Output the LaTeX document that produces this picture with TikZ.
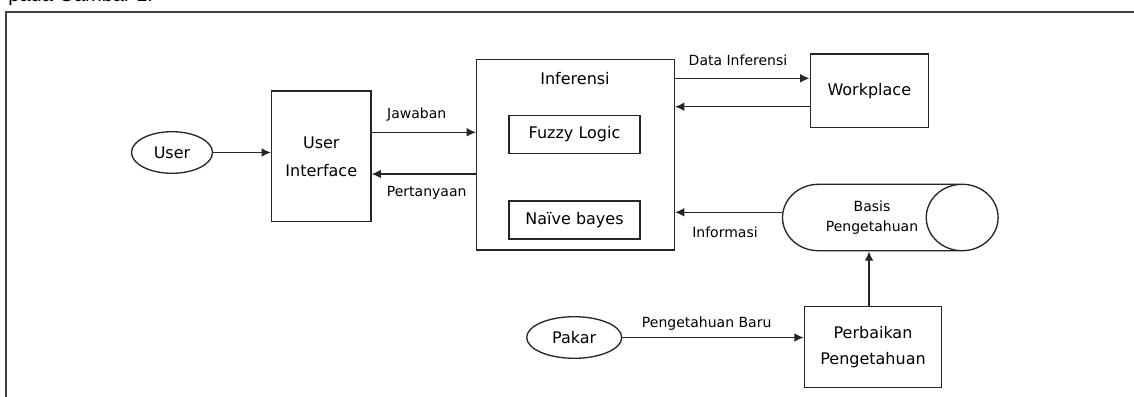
\documentclass[tikz,border=0pt]{standalone}
\usepackage{fontspec}
\setmainfont{DejaVu Sans}
\newfontfamily\judulfont{Liberation Sans}
\usetikzlibrary{arrows.meta,shapes.geometric}

\tikzset{every picture/.style={line width=0.75pt}}
\tikzset{
  kotak/.style={draw=black!85, line width=1pt, inner sep=0pt, align=center, font=\fontsize{12}{21}\selectfont},
  aktor/.style={draw=black!85, ellipse, line width=1pt, inner sep=0pt, font=\fontsize{12}{14}\selectfont},
  ket/.style={inner sep=0.75pt, font=\fontsize{10.5}{12}\selectfont},
  panah/.style={draw=black!85, line width=1pt, -{Latex[length=7pt,width=6.5pt]}},
}

\begin{document}
\begin{tikzpicture}[x=0.75pt,y=0.75pt,yscale=-1,xscale=1]
		\useasboundingbox (0,0) rectangle (1134,396);

		% Text Node
		\node [anchor=base west, inner sep=0pt, font=\judulfont\fontsize{15}{18}\selectfont] (judul) at (8,1.5) {pada Gambar 1.};
		%Shape: Rectangle (frame)
		\draw [draw=black!75, line width=1.1pt] (6,12) rectangle (1170,430);

		%Shape: Ellipse
		\node [aktor, minimum width=60.75pt, minimum height=31.2pt] (user) at (172,152.5) {User};
		%Shape: Rectangle
		\node [kotak, minimum width=74.5pt, minimum height=98pt] (ui) at (321.3,156.3) {User\\Interface};
		%Shape: Rectangle
		\node [kotak, minimum width=148.2pt, minimum height=143pt] (infer) at (575.5,154.7) {};
		% Text Node
		\node [inner sep=0pt, font=\fontsize{12}{14}\selectfont] (infertitle) at (575,78.3) {Inferensi};
		%Shape: Rectangle
		\node [kotak, minimum width=98.25pt, minimum height=28.2pt] (fuzzy) at (574.5,134.5) {Fuzzy Logic};
		%Shape: Rectangle
		\node [kotak, minimum width=98.25pt, minimum height=28.7pt] (naive) at (574.5,220) {Naïve bayes};
		%Shape: Rectangle
		\node [kotak, minimum width=88.7pt, minimum height=55pt] (work) at (869.3,90.7) {Workplace};
		%Shape: Can
		\node [draw=black!85, line width=1pt, cylinder, shape aspect=2.1, minimum height=161.7pt, minimum width=49.8pt, inner sep=0pt, align=center, font=\fontsize{10.5}{15.5}\selectfont] (basis) at (872,217.5) {Basis\\Pengetahuan};
		%Shape: Rectangle
		\node [kotak, minimum width=103pt, minimum height=60.75pt, font=\fontsize{12}{20}\selectfont] (perbaikan) at (873,347.2) {Perbaikan\\Pengetahuan};
		%Shape: Ellipse
		\node [aktor, minimum width=71.25pt, minimum height=31.2pt] (pakar) at (574.2,337.5) {Pakar};

		%Straight Lines
		\draw [panah] (user.east) -- (user.east -| ui.west);
		%Straight Lines
		\draw [panah] (ui.east |- 0,132.3) -- (infer.west |- 0,132.3);
		%Straight Lines
		\draw [panah] (infer.west |- 0,174) -- (ui.east |- 0,174);
		%Straight Lines
		\draw [panah] (infer.east |- 0,78.3) -- (work.west |- 0,78.3);
		%Straight Lines
		\draw [panah] (work.west |- 0,106.7) -- (infer.east |- 0,106.7);
		%Straight Lines
		\draw [panah] (basis.west |- 0,212.3) -- (infer.east |- 0,212.3);
		%Straight Lines
		\draw [panah] (pakar.east) -- (pakar.east -| perbaikan.west);
		%Straight Lines
		\draw [panah] (perbaikan.north -| 869,0) -- (basis.south -| 869,0);

		% Text Node
		\node [ket] (ljawaban) at (416.7,115) {Jawaban};
		% Text Node
		\node [ket] (lpertanyaan) at (426.7,192.7) {Pertanyaan};
		% Text Node
		\node [ket] (ldata) at (738,60) {Data Inferensi};
		% Text Node
		\node [ket] (linformasi) at (725,232.3) {Informasi};
		% Text Node
		\node [ket] (lbaru) at (706.7,323.3) {Pengetahuan Baru};
\end{tikzpicture}
\end{document}
